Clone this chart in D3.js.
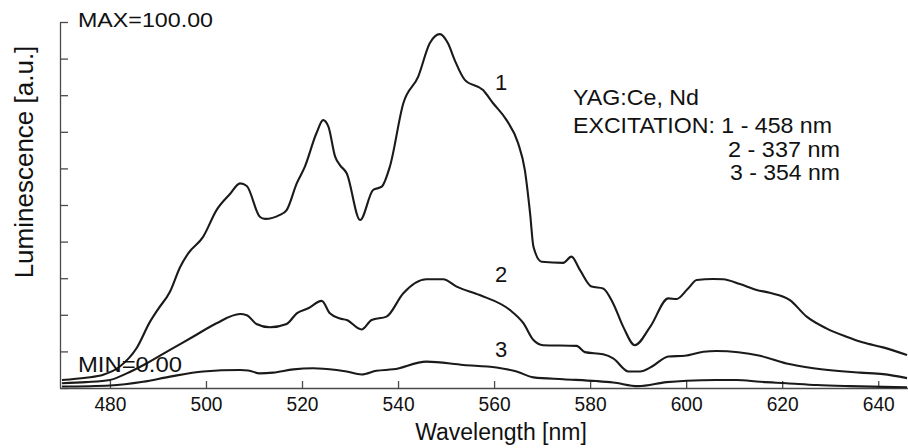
<!DOCTYPE html>
<html>
<head>
<meta charset="utf-8">
<script src="https://cdn.jsdelivr.net/npm/d3@7"></script>
<style>
  body { margin: 0; background: #fff; }
  svg text { font-family: "Liberation Sans", Arial, sans-serif; fill: #111; }
</style>
</head>
<body>
<script>
// wavelength [nm] / luminescence [a.u.]
var wl1 = [470, 475, 478.6, 482, 485.6, 488.3, 490, 492.5, 494.6, 496.3, 499.4, 502.2, 505, 507.1, 508.5, 511.2, 512.3, 515.4, 516.8, 518.9, 520.6, 523, 524.4, 525.5, 526.9, 527.9, 529.3, 532.1, 534.8, 536.6, 538.3, 541.1, 544.2, 546.6, 548.7, 550.4, 551.8, 553.9, 557.7, 559.8, 562.6, 565, 566.4, 567.5, 568.2, 569.9, 574.4, 576.1, 577.9, 580.3, 582.7, 584.8, 586.9, 589.3, 592.5, 596.3, 598, 600.4, 602.2, 605.6, 607.7, 611.2, 614.7, 617.4, 621.6, 625.1, 629.2, 633.4, 636.9, 641, 646];
var lum1 = [2.2, 2.8, 3.6, 5.8, 11, 18, 21.5, 26.3, 33, 36.8, 41.3, 48.6, 53, 55.9, 55.2, 46.8, 46.2, 47.3, 48.6, 55.9, 60.5, 69.6, 73.2, 71.4, 63.2, 60.9, 58.7, 45.9, 54.1, 55, 60.5, 77.8, 85.1, 94.2, 96.7, 94.2, 89.6, 84.2, 81.4, 77.8, 73.2, 66.9, 59.6, 47.7, 38.6, 34.5, 34.2, 35.9, 32.2, 27.7, 27.2, 23.1, 16.7, 11.7, 16.7, 24.5, 24.3, 27.2, 29.5, 29.8, 29.7, 28.4, 26.8, 26, 24, 19.5, 16.3, 14, 12.4, 11.1, 9];

var wl2 = [470, 475, 480, 483.5, 487.6, 492.5, 497.3, 502.2, 507.1, 508.5, 510.5, 513.3, 516.8, 518.9, 521.3, 524.1, 525.8, 527.9, 529.3, 532.4, 534.5, 537.6, 541.1, 545.9, 549.4, 552.2, 557, 563.3, 566.1, 568.2, 570.2, 577.2, 578.9, 582.7, 584.8, 588, 590.4, 592.8, 596.3, 599.7, 603.6, 606.3, 615.4, 620.9, 626.5, 636.2, 641, 646];
var lum2 = [1.3, 1.6, 2.2, 4, 6.7, 10.4, 14, 17.7, 20.2, 19.9, 17.5, 16.6, 17.5, 20.4, 21.8, 23.8, 20.4, 19, 18.6, 16, 18.6, 19.5, 25.9, 29.7, 29.7, 27.7, 25.4, 21.3, 17.7, 13.1, 11.7, 11.5, 9.8, 9.2, 8.1, 4.5, 4.5, 5.8, 8.6, 8.8, 9.9, 10.1, 8.8, 6.7, 5.4, 4.2, 3.8, 2.7];

var wl3 = [470, 480, 486.9, 492.5, 499.4, 507.1, 508.8, 511.2, 514, 518.2, 522.3, 527.2, 529.3, 532.4, 535.5, 539, 545.9, 553.6, 560.5, 564.7, 568.2, 574.4, 581.3, 584.8, 590, 595.9, 600.1, 606.3, 610.5, 615.4, 620.9, 627.2, 634, 646];
var lum3 = [0.4, 0.7, 1.7, 3.1, 4.5, 4.9, 4.8, 4, 4.2, 5.1, 5.4, 4.9, 4.5, 3.7, 4.7, 5.1, 7.2, 6.3, 5.6, 4.5, 2.9, 2.4, 1.9, 1.5, 0.5, 1.6, 2, 2.2, 2.2, 1.7, 1.3, 0.8, 0.5, 0.2];

var xTicks = [480, 500, 520, 540, 560, 580, 600, 620, 640];
var yTicks = [0, 10, 20, 30, 40, 50, 60, 70, 80, 90, 100];
var curveNames = ["1", "2", "3"];
var legendLines = ["YAG:Ce, Nd", "EXCITATION: 1 - 458 nm", "2 - 337 nm", "3 - 354 nm"];

var width = 908, height = 448;
var margin = { top: 22, right: 0, bottom: 60, left: 60 };

var svg = d3.select("body")
    .append("svg")
    .attr("width", width)
    .attr("height", height);

var x = d3.scaleLinear()
    .domain([469.6, 646.2])
    .range([margin.left, width - margin.right]);

var y = d3.scaleLinear()
    .domain([0, 100])
    .range([height - margin.bottom, margin.top]);

// axes: ticks point inward, no y labels
var xAxis = svg.append("g")
    .attr("transform", "translate(0," + y(0) + ")")
    .call(d3.axisBottom(x).tickValues(xTicks).tickSize(-7).tickSizeOuter(0).tickPadding(9));
xAxis.selectAll("text")
    .style("font-size", "20px")
    .attr("textLength", 32)
    .attr("lengthAdjust", "spacingAndGlyphs");

var yAxis = svg.append("g")
    .attr("transform", "translate(" + x(469.6) + ",0)")
    .call(d3.axisRight(y).tickValues(yTicks).tickSize(8).tickSizeOuter(0).tickFormat(""));

svg.selectAll(".domain, .tick line")
    .attr("stroke", "#4a4a4a")
    .attr("stroke-width", 1.3);

var line = d3.line()
    .x(function (d) { return x(d[0]); })
    .y(function (d) { return y(d[1]); })
    .curve(d3.curveMonotoneX);

var series = [d3.zip(wl1, lum1), d3.zip(wl2, lum2), d3.zip(wl3, lum3)];

svg.append("g")
    .selectAll("path")
    .data(series)
    .enter().append("path")
    .attr("d", line)
    .attr("fill", "none")
    .attr("stroke", "#1c1a18")
    .attr("stroke-width", 2.1)
    .attr("stroke-linejoin", "round");

// curve numbers
var labelPos = [[495, 90], [495, 282], [495, 357]];
svg.append("g")
    .selectAll("text")
    .data(curveNames)
    .enter().append("text")
    .attr("x", function (d, i) { return labelPos[i][0]; })
    .attr("y", function (d, i) { return labelPos[i][1]; })
    .style("font-size", "22px")
    .text(function (d) { return d; });

svg.append("text")
    .attr("x", 78)
    .attr("y", 27)
    .style("font-size", "21px")
    .attr("textLength", 135)
    .attr("lengthAdjust", "spacingAndGlyphs")
    .text("MAX=100.00");

svg.append("text")
    .attr("x", 78)
    .attr("y", 372)
    .style("font-size", "22px")
    .attr("textLength", 104)
    .attr("lengthAdjust", "spacingAndGlyphs")
    .text("MIN=0.00");

var legendX = [573, 573, 728, 730],
    legendY = [105, 133, 157, 180],
    legendW = [126, 259, 112, 110];
svg.append("g")
    .selectAll("text")
    .data(legendLines)
    .enter().append("text")
    .attr("x", function (d, i) { return legendX[i]; })
    .attr("y", function (d, i) { return legendY[i]; })
    .attr("textLength", function (d, i) { return legendW[i]; })
    .attr("lengthAdjust", "spacingAndGlyphs")
    .style("font-size", "22px")
    .text(function (d) { return d; });

svg.append("text")
    .attr("x", 501)
    .attr("y", 440)
    .attr("text-anchor", "middle")
    .style("font-size", "23px")
    .text("Wavelength [nm]");

svg.append("text")
    .attr("transform", "translate(33,162) rotate(-90)")
    .attr("text-anchor", "middle")
    .style("font-size", "26px")
    .text("Luminescence [a.u.]");
</script>
</body>
</html>
